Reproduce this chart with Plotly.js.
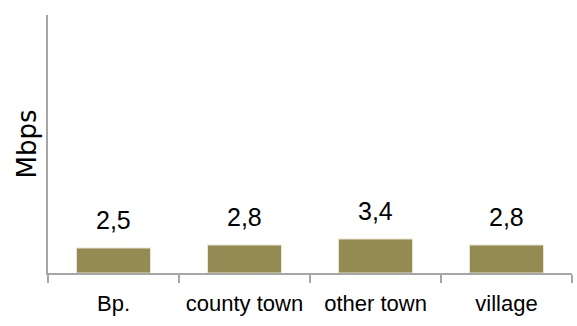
<!DOCTYPE html>
<html>
<head>
<meta charset="utf-8">
<script src="https://cdn.plot.ly/plotly-3.0.1.min.js"></script>
<style>
  html, body { margin: 0; padding: 0; background: #fff; }
  #chart { width: 577px; height: 326px; }
</style>
</head>
<body>
<div id="chart"></div>
<script>
// Average download speed by settlement type
const categories = ['Bp.', 'county town', 'other town', 'village'];
const speeds = [2.5, 2.8, 3.4, 2.8];
const valueLabels = ['2,5', '2,8', '3,4', '2,8'];

const fontFamily = 'Liberation Sans, Arial, sans-serif';

const trace = {
  type: 'bar',
  x: categories,
  y: speeds,
  marker: { color: '#948a54', line: { color: '#e8e4d0', width: 1 } },
  hoverinfo: 'skip'
};

// Value labels sit a little above each bar
const annotations = categories.map((c, i) => ({
  x: c,
  y: speeds[i],
  text: valueLabels[i],
  showarrow: false,
  yanchor: 'bottom',
  yshift: 12,
  font: { family: fontFamily, size: 25, color: '#000' }
}));

const layout = {
  width: 577,
  height: 326,
  margin: { l: 48, r: 5, t: 15, b: 53 },
  paper_bgcolor: '#fff',
  plot_bgcolor: '#fff',
  showlegend: false,
  bargap: 0.435,
  xaxis: {
    type: 'category',
    showline: true,
    linecolor: '#a6a6a6',
    linewidth: 2,
    ticks: 'outside',
    tickson: 'boundaries',
    ticklen: 8,
    tickwidth: 2,
    tickcolor: '#a6a6a6',
    tickangle: 0,
    ticklabelstandoff: 10,
    tickfont: { family: fontFamily, size: 22, color: '#000' },
    showgrid: false,
    zeroline: false
  },
  yaxis: {
    range: [0, 25.8],
    showline: true,
    linecolor: '#a6a6a6',
    linewidth: 2,
    showticklabels: false,
    ticks: '',
    showgrid: false,
    zeroline: false,
    title: { text: 'Mbps', font: { family: 'DejaVu Sans, sans-serif', size: 26, color: '#000' }, standoff: 2 }
  },
  annotations: annotations
};

Plotly.newPlot('chart', [trace], layout, { displayModeBar: false, staticPlot: true });
</script>
</body>
</html>
